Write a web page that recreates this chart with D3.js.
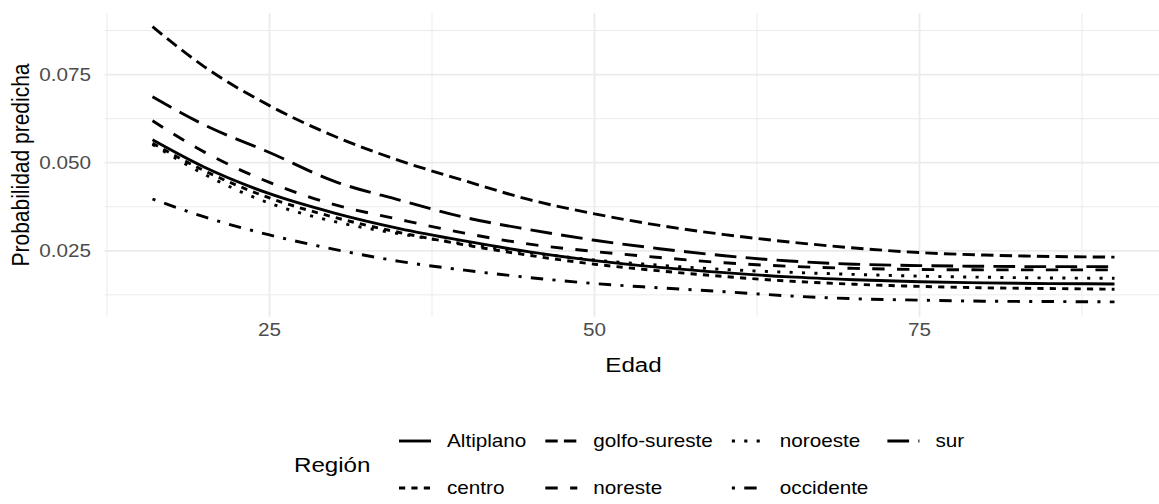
<!DOCTYPE html>
<html>
<head>
<meta charset="utf-8">
<script src="https://cdn.jsdelivr.net/npm/d3@7"></script>
<style>
    body { margin: 0; background: #fff; }
    svg text { font-family: "Liberation Sans", Arial, sans-serif; }
    .grid-major { stroke: #ebebeb; stroke-width: 1.8; }
    .grid-minor { stroke: #ebebeb; stroke-width: 1; }
    .serie { fill: none; stroke: #000; stroke-width: 2.9; }
</style>
</head>
<body>
<div id="chart"></div>
<script>
    // edades del eje x
    var edades = [16, 20, 25, 30, 35, 40, 45, 50, 55, 60, 65, 70, 75, 80, 85, 90];

    // probabilidad predicha por región
    var altiplano    = [0.0565, 0.0487, 0.0412, 0.0357, 0.0313, 0.0278, 0.0247, 0.0222, 0.0203, 0.0188, 0.0176, 0.0168, 0.0162, 0.0159, 0.0157, 0.0156];
    var centro       = [0.0555, 0.0477, 0.0400, 0.0345, 0.0302, 0.0267, 0.0237, 0.0212, 0.0193, 0.0177, 0.0164, 0.0155, 0.0149, 0.0145, 0.0143, 0.0141];
    var golfoSureste = [0.0886, 0.0772, 0.0662, 0.0575, 0.0506, 0.0449, 0.0395, 0.0355, 0.0322, 0.0296, 0.0275, 0.0258, 0.0245, 0.0238, 0.0234, 0.0232];
    var noreste      = [0.0619, 0.0530, 0.0444, 0.0381, 0.0339, 0.0300, 0.0269, 0.0248, 0.0231, 0.0216, 0.0206, 0.0200, 0.0197, 0.0196, 0.0196, 0.0196];
    var noroeste     = [0.0552, 0.0467, 0.0385, 0.0333, 0.0298, 0.0270, 0.0245, 0.0224, 0.0209, 0.0197, 0.0189, 0.0183, 0.0178, 0.0175, 0.0173, 0.0172];
    var occidente    = [0.0397, 0.0346, 0.0295, 0.0254, 0.0220, 0.0195, 0.0174, 0.0157, 0.0145, 0.0134, 0.0122, 0.0114, 0.0110, 0.0107, 0.0106, 0.0105];
    var sur          = [0.0687, 0.0607, 0.0529, 0.0447, 0.0394, 0.0345, 0.0310, 0.0280, 0.0256, 0.0236, 0.0221, 0.0212, 0.0208, 0.0206, 0.0205, 0.0205];

    var regiones = ["Altiplano", "centro", "golfo-sureste", "noreste", "noroeste", "occidente", "sur"];
    var valores = [altiplano, centro, golfoSureste, noreste, noroeste, occidente, sur];

    var xTicks = [25, 50, 75];
    var xMinor = [12.5, 37.5, 62.5, 87.5];
    var yTicks = [0.025, 0.050, 0.075];
    var yMinor = [0.0125, 0.0375, 0.0625, 0.0875];

    // tipos de línea de ggplot (unidades = grosor de línea)
    var tipos = ["solid", "22", "42", "44", "13", "1343", "73"];
    var u = 3.1;
    function dash(t) {
        if (t === "solid") return null;
        return t.split("").map(function (c) { return (+c * u).toFixed(1); }).join(",");
    }

    var width = 1159, height = 504;
    var stretch = 1.15; // el texto del original está algo ensanchado

    var svg = d3.select("#chart").append("svg")
        .attr("width", width)
        .attr("height", height)
        .style("background", "#fff");

    var x = d3.scaleLinear().domain([12.3, 93.7]).range([104.4, 1162.6]);
    var y = d3.scaleLinear().domain([0.0063, 0.0924]).range([316.7, 13.3]);

    var panel = { left: x.range()[0], right: x.range()[1], top: y.range()[1], bottom: y.range()[0] };

    // grid
    var grid = svg.append("g");
    grid.selectAll("line.vmin").data(xMinor).enter().append("line")
        .attr("class", "grid-minor")
        .attr("x1", d => x(d)).attr("x2", d => x(d))
        .attr("y1", panel.top).attr("y2", panel.bottom);
    grid.selectAll("line.hmin").data(yMinor).enter().append("line")
        .attr("class", "grid-minor")
        .attr("x1", panel.left).attr("x2", panel.right)
        .attr("y1", d => y(d)).attr("y2", d => y(d));
    grid.selectAll("line.vmaj").data(xTicks).enter().append("line")
        .attr("class", "grid-major")
        .attr("x1", d => x(d)).attr("x2", d => x(d))
        .attr("y1", panel.top).attr("y2", panel.bottom);
    grid.selectAll("line.hmaj").data(yTicks).enter().append("line")
        .attr("class", "grid-major")
        .attr("x1", panel.left).attr("x2", panel.right)
        .attr("y1", d => y(d)).attr("y2", d => y(d));

    function texto(g, tx, ty, s, size, color, anchor, rot) {
        var tr = "translate(" + tx + "," + ty + ") scale(" + stretch + ",1)" + (rot ? " rotate(" + rot + ")" : "");
        return g.append("text")
            .attr("transform", tr)
            .attr("text-anchor", anchor || "start")
            .attr("dominant-baseline", "central")
            .style("font-size", size + "px")
            .style("fill", color)
            .text(s);
    }

    // etiquetas de ejes
    var ejes = svg.append("g");
    yTicks.forEach(function (t) {
        texto(ejes, 91, y(t), d3.format(".3f")(t), 18, "#4d4d4d", "end");
    });
    xTicks.forEach(function (t) {
        texto(ejes, x(t), 330, t, 18, "#4d4d4d", "middle");
    });
    texto(ejes, (panel.left + panel.right) / 2, 365, "Edad", 21, "#000", "middle");
    texto(ejes, 21, (panel.top + panel.bottom) / 2, "Probabilidad predicha", 21, "#000", "middle", -90);

    // líneas
    var line = d3.line()
        .x((d, i) => x(edades[i]))
        .y(d => y(d))
        .curve(d3.curveMonotoneX);

    svg.append("g").selectAll("path").data(valores).enter().append("path")
        .attr("class", "serie")
        .attr("d", line)
        .attr("stroke-dasharray", (d, i) => dash(tipos[i]));

    // leyenda (2 filas, por columnas)
    var leyenda = svg.append("g");
    texto(leyenda, 294, 465, "Región", 21, "#000", "start");

    var filas = [441, 488];
    var colX = 399, keyW = 32;
    for (var c = 0; c * 2 < regiones.length; c++) {
        var maxW = 0;
        for (var r = 0; r < 2; r++) {
            var k = c * 2 + r;
            if (k >= regiones.length) break;
            leyenda.append("line")
                .attr("class", "serie")
                .attr("x1", colX).attr("x2", colX + keyW)
                .attr("y1", filas[r]).attr("y2", filas[r])
                .attr("stroke-dasharray", dash(tipos[k]));
            var t = texto(leyenda, colX + 48, filas[r], regiones[k], 18, "#000", "start");
            maxW = Math.max(maxW, t.node().getComputedTextLength() * stretch);
        }
        colX = colX + 48 + maxW + 19;
    }
</script>
</body>
</html>
